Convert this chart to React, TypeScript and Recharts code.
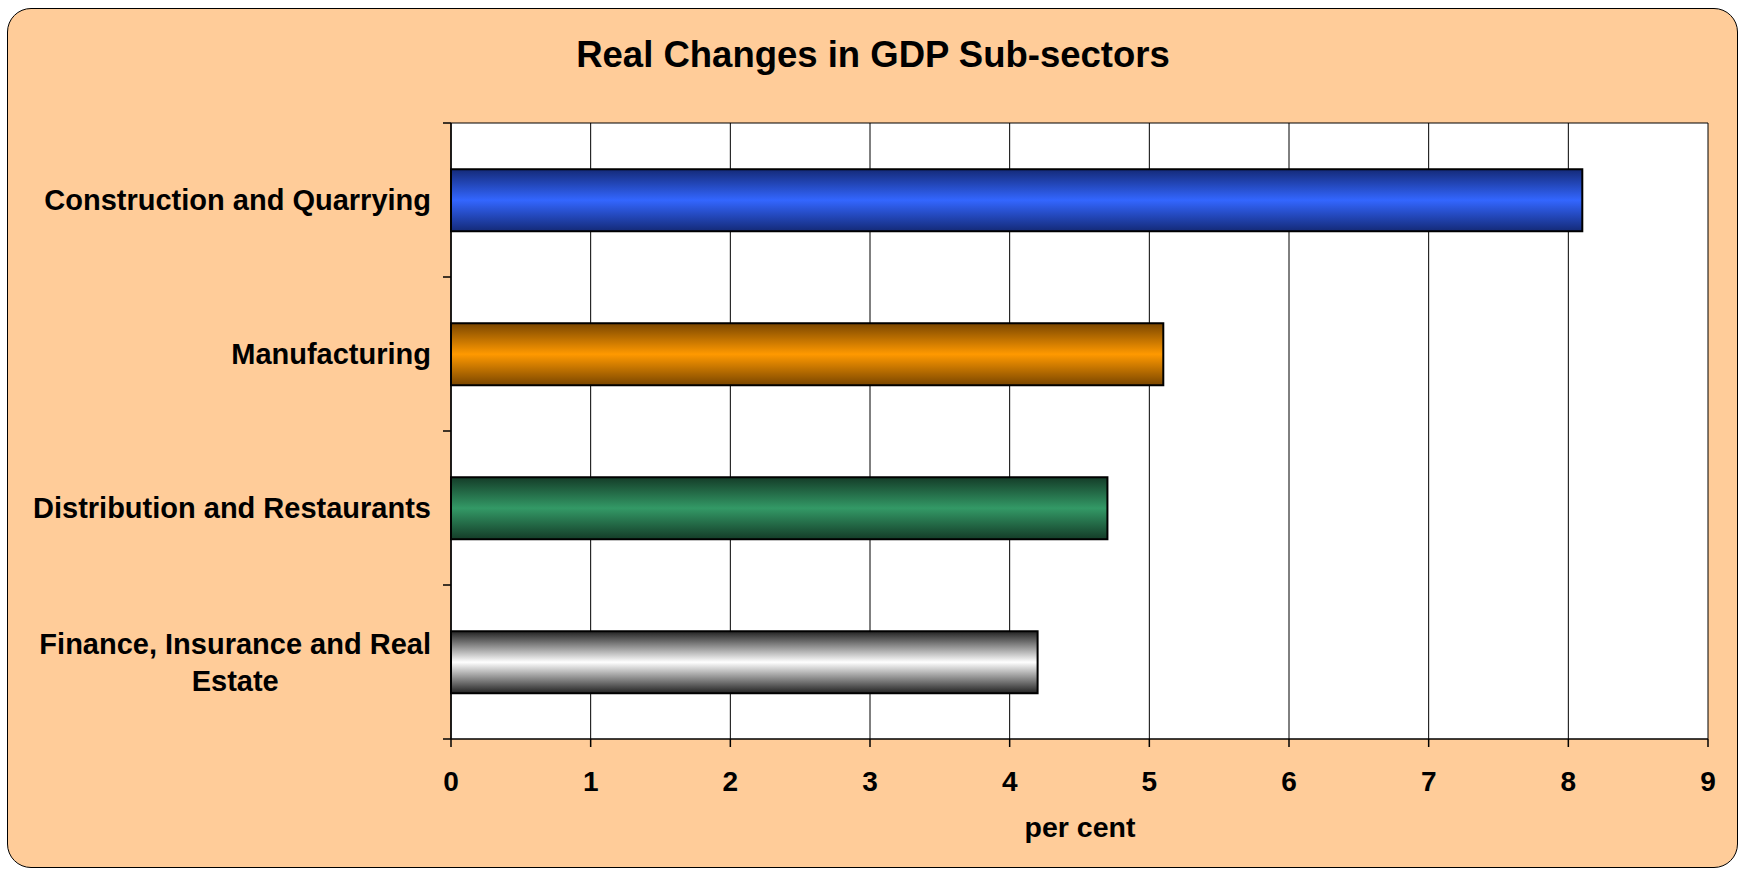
import { Bar, BarChart, CartesianGrid, Cell, XAxis, YAxis } from 'recharts'

const sectors = [
  'Construction and Quarrying',
  'Manufacturing',
  'Distribution and Restaurants',
  'Finance, Insurance and Real Estate',
]
const growth = [8.1, 5.1, 4.7, 4.2]
const xTicks = [0, 1, 2, 3, 4, 5, 6, 7, 8, 9]
// edge colour, centre colour for each bar's shaded fill
const barShades = [
  ['#142a78', '#3366ff'],
  ['#7a4600', '#ff9900'],
  ['#143c28', '#339966'],
  ['#222222', '#ffffff'],
]

const FONT = '"Liberation Sans", Arial, sans-serif'
const W = 1743
const H = 869
const LABEL_GAP = 20
const TICK_LEN = 8

const data = sectors.map((name, i) => ({ name, value: growth[i] }))

function wrap(text: string, max: number) {
  const words = text.split(' ')
  const lines: string[] = []
  let cur = ''
  for (const w of words) {
    const next = cur ? cur + ' ' + w : w
    if (next.length > max && cur) {
      lines.push(cur)
      cur = w
    } else cur = next
  }
  if (cur) lines.push(cur)
  return lines
}

let ctx: CanvasRenderingContext2D | null = null
function measure(s: string, size: number) {
  if (!ctx) ctx = document.createElement('canvas').getContext('2d')
  if (!ctx) return s.length * size * 0.55
  ctx.font = `bold ${size}px ${FONT}`
  return ctx.measureText(s).width
}

// category label plus Excel-style tick marks on the band edges
const SectorTick = (props: any) => {
  const { x, y, payload, index, height, visibleTicksCount } = props
  const size = 29
  const lines = wrap(String(payload.value), 28)
  const band = height && visibleTicksCount ? height / visibleTicksCount : 0
  const axisX = x + LABEL_GAP
  const marks = band
    ? (index === visibleTicksCount - 1 ? [y - band / 2, y + band / 2] : [y - band / 2])
    : []
  let label
  if (lines.length === 1) {
    label = (
      <text x={x} y={y} dy="0.36em" textAnchor="end" fontFamily={FONT} fontWeight="bold" fontSize={size} fill="#000">
        {lines[0]}
      </text>
    )
  } else {
    const maxW = Math.max(...lines.map((l) => measure(l, size)))
    const cx = x - maxW / 2
    const lh = 37
    const y0 = y - ((lines.length - 1) * lh) / 2
    label = (
      <text textAnchor="middle" fontFamily={FONT} fontWeight="bold" fontSize={size} fill="#000">
        {lines.map((l, i) => (
          <tspan key={i} x={cx} y={y0 + i * lh} dy="0.36em">{l}</tspan>
        ))}
      </text>
    )
  }
  return (
    <g>
      {marks.map((my, i) => (
        <line key={i} x1={axisX - TICK_LEN} x2={axisX} y1={my} y2={my} stroke="#000" strokeWidth={1.5} />
      ))}
      {label}
    </g>
  )
}

const ValueTick = (props: any) => {
  const { x, y, payload } = props
  return (
    <text x={x} y={y} dy="0.71em" textAnchor="middle" fontFamily={FONT} fontWeight="bold" fontSize={28} fill="#000">
      {payload.value}
    </text>
  )
}

export default function App() {
  return (
    <div style={{ position: 'fixed', left: 0, top: 0, width: W, height: H, background: '#fff' }}>
      <div
        style={{
          position: 'absolute', left: 7, top: 8, width: 1729, height: 858,
          background: '#ffcc99', border: '1.5px solid #000', borderRadius: 24,
        }}
      />
      <div style={{ position: 'absolute', left: 873 - 400, width: 800, top: 34, textAlign: 'center', fontFamily: FONT, fontWeight: 'bold', fontSize: 36.5 }}>
        Real Changes in GDP Sub-sectors
      </div>
      <div style={{ position: 'absolute', left: 1080 - 100, width: 200, top: 811, textAlign: 'center', fontFamily: FONT, fontWeight: 'bold', fontSize: 28.5 }}>
        per cent
      </div>
      <div style={{ position: 'absolute', left: 0, top: 0 }}>
        <BarChart
          width={W}
          height={H}
          data={data}
          layout="vertical"
          margin={{ top: 123, right: 35, bottom: 0, left: 0 }}
          barCategoryGap="30%"
        >
          <defs>
            {barShades.map(([edge, mid], i) => (
              <linearGradient key={i} id={`shade${i}`} x1="0" y1="0" x2="0" y2="1">
                <stop offset="0%" stopColor={edge} />
                <stop offset="50%" stopColor={mid} />
                <stop offset="100%" stopColor={edge} />
              </linearGradient>
            ))}
          </defs>
          <CartesianGrid
            stroke="#000"
            strokeWidth={1}
            fill="#fff"
            xAxisId="val"
            yAxisId="cat"
            horizontalCoordinatesGenerator={({ offset }: any) => [offset.top]}
          />
          <XAxis
            xAxisId="val"
            type="number"
            domain={[0, 9]}
            ticks={xTicks}
            interval={0}
            height={130}
            tickSize={TICK_LEN}
            tickMargin={24}
            tick={<ValueTick />}
            stroke="#000"
            strokeWidth={1.5}
            tickLine={{ stroke: '#000' }}
          />
          <YAxis
            yAxisId="cat"
            type="category"
            dataKey="name"
            width={451}
            axisLine={{ stroke: '#000', strokeWidth: 1.5 }}
            tickLine={false}
            tickSize={0}
            tickMargin={LABEL_GAP}
            interval={0}
            tick={<SectorTick />}
          />
          <Bar dataKey="value" xAxisId="val" yAxisId="cat" stroke="#000" strokeWidth={2} isAnimationActive={false}>
            {data.map((_, i) => (
              <Cell key={i} fill={`url(#shade${i})`} />
            ))}
          </Bar>
        </BarChart>
      </div>
    </div>
  )
}
